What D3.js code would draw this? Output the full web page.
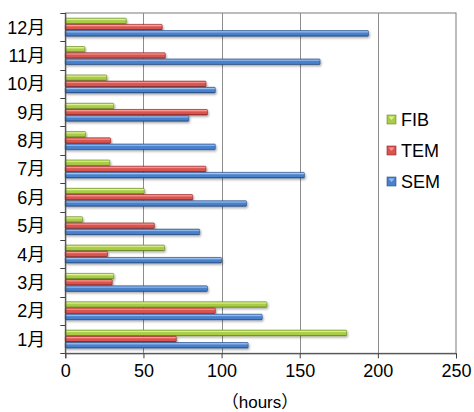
<!DOCTYPE html>
<html>
<head>
<meta charset="utf-8">
<script src="https://cdn.jsdelivr.net/npm/d3@7"></script>
<style>
  html, body { margin: 0; padding: 0; background: #fff; }
  svg { display: block; }
  text { font-family: "Liberation Sans", Arial, "Noto Sans CJK JP", sans-serif; fill: #000; }
</style>
</head>
<body>
<svg id="chart" width="474" height="412"></svg>
<script>
// Monthly instrument usage (hours)
const months = ["1月", "2月", "3月", "4月", "5月", "6月", "7月", "8月", "9月", "10月", "11月", "12月"];
const seriesNames = ["FIB", "TEM", "SEM"];
const fibHours = [180, 129, 31, 63.5, 11, 50.5, 28.5, 13, 31, 26.5, 12.5, 39];
const temHours = [71, 96, 30, 27, 57, 81.5, 90, 29, 91, 90, 64, 62];
const semHours = [117, 126, 91, 100, 86, 116, 153, 96, 79, 96, 163, 194];
const xTicks = [0, 50, 100, 150, 200, 250];

const seriesValues = { FIB: fibHours, TEM: temHours, SEM: semHours };
const palette = {
  FIB: { light: "#e2f59a", base: "#a8cc45", dark: "#5f7a1f", edge: "#6a8a22" },
  TEM: { light: "#ff9a96", base: "#d9534f", dark: "#7c1d1b", edge: "#8e2522" },
  SEM: { light: "#9cc4f2", base: "#4a80cc", dark: "#1f4375", edge: "#284f86" }
};

const svg = d3.select("#chart");
const plot = { left: 65.3, right: 456, top: 13, bottom: 353.3 };

const x = d3.scaleLinear().domain([0, 250]).range([plot.left, plot.right]);
// 12月 at the top, 1月 at the bottom
const y = d3.scaleBand().domain(months.slice().reverse()).range([plot.top, plot.bottom]).padding(0);
const yInner = d3.scaleBand().domain(seriesNames).range([0, y.bandwidth()])
  .paddingInner(0.1).paddingOuter(0.835);

// Gradients and shadow for the tube-like bars
const defs = svg.append("defs");
seriesNames.forEach(name => {
  const c = palette[name];
  const g = defs.append("linearGradient")
    .attr("id", "grad-" + name).attr("x1", 0).attr("y1", 0).attr("x2", 0).attr("y2", 1);
  [[0, c.base], [0.2, c.light], [0.45, c.base], [0.8, c.base], [1, c.dark]].forEach(([o, col]) =>
    g.append("stop").attr("offset", o).attr("stop-color", col));
});
const shadow = defs.append("filter").attr("id", "shadow")
  .attr("x", "-5%").attr("y", "-50%").attr("width", "115%").attr("height", "250%");
shadow.append("feDropShadow").attr("dx", 1).attr("dy", 1.5).attr("stdDeviation", 0.9)
  .attr("flood-color", "#000").attr("flood-opacity", 0.35);

// Plot frame
svg.append("rect")
  .attr("x", plot.left).attr("y", plot.top)
  .attr("width", plot.right - plot.left).attr("height", plot.bottom - plot.top)
  .attr("fill", "none").attr("stroke", "#7a7a7a").attr("stroke-width", 1);

// Vertical gridlines
svg.append("g").selectAll("line")
  .data(xTicks.filter(d => d > 0 && d < 250))
  .join("line")
  .attr("x1", d => Math.round(x(d)) + 0.5).attr("x2", d => Math.round(x(d)) + 0.5)
  .attr("y1", plot.top).attr("y2", plot.bottom)
  .attr("stroke", "#8c8c8c").attr("stroke-width", 1);

// Bars
const rows = months.map((m, i) => ({ month: m, i }));
const groups = svg.append("g").selectAll("g")
  .data(rows).join("g")
  .attr("transform", d => `translate(0,${y(d.month)})`);

groups.selectAll("rect")
  .data(d => seriesNames.map(s => ({ s, v: seriesValues[s][d.i] })))
  .join("rect")
  .attr("x", x(0))
  .attr("y", d => yInner(d.s))
  .attr("width", d => x(d.v) - x(0))
  .attr("height", yInner.bandwidth())
  .attr("rx", 0.8)
  .attr("fill", d => `url(#grad-${d.s})`)
  .attr("stroke", d => palette[d.s].edge)
  .attr("stroke-width", 0.6)
  .attr("filter", "url(#shadow)");

// Axes
const xAxis = d3.axisBottom(x).tickValues(xTicks).tickSize(5).tickPadding(6);
const gx = svg.append("g").attr("transform", `translate(0,${plot.bottom})`).call(xAxis);
gx.select(".domain").attr("stroke", "#404040");
gx.selectAll(".tick line").attr("stroke", "#404040");
gx.selectAll(".tick text").attr("font-size", 18).attr("font-family", "Liberation Sans, Arial, sans-serif");

const gy = svg.append("g").attr("transform", `translate(${plot.left},0)`);
// Tick marks at category boundaries
const bounds = months.map(m => y(m)).concat([plot.bottom]);
gy.selectAll("line.tk").data(bounds).join("line")
  .attr("class", "tk")
  .attr("x1", -5).attr("x2", 0)
  .attr("y1", d => Math.round(d) + 0.5).attr("y2", d => Math.round(d) + 0.5)
  .attr("stroke", "#404040");
gy.append("line")
  .attr("x1", 0.5).attr("x2", 0.5).attr("y1", plot.top).attr("y2", plot.bottom)
  .attr("stroke", "#404040");
gy.selectAll("text").data(months).join("text")
  .attr("x", -20)
  .attr("y", d => y(d) + y.bandwidth() / 2 + 6.5)
  .attr("text-anchor", "end")
  .attr("font-size", 18)
  .text(d => d);

// Axis title
svg.append("text")
  .attr("x", 260).attr("y", 408)
  .attr("text-anchor", "middle")
  .attr("font-size", 17)
  .text("（hours）");

// Legend
const legend = svg.append("g").attr("transform", "translate(387,0)");
const legendY = [119.5, 150.5, 181.5];
seriesNames.forEach((name, i) => {
  const c = palette[name];
  const row = legend.append("g").attr("transform", `translate(0,${legendY[i]})`);
  row.append("rect")
    .attr("x", 0).attr("y", -4.5).attr("width", 9).attr("height", 9)
    .attr("fill", c.base).attr("stroke", c.edge).attr("stroke-width", 0.6);
  row.append("path")
    .attr("d", "M1.5,-3 L7.5,-3 L4.5,0.5 Z")
    .attr("fill", c.light).attr("opacity", 0.9);
  row.append("text")
    .attr("x", 14).attr("y", 6.5)
    .attr("font-size", 18)
    .text(name);
});
</script>
</body>
</html>
